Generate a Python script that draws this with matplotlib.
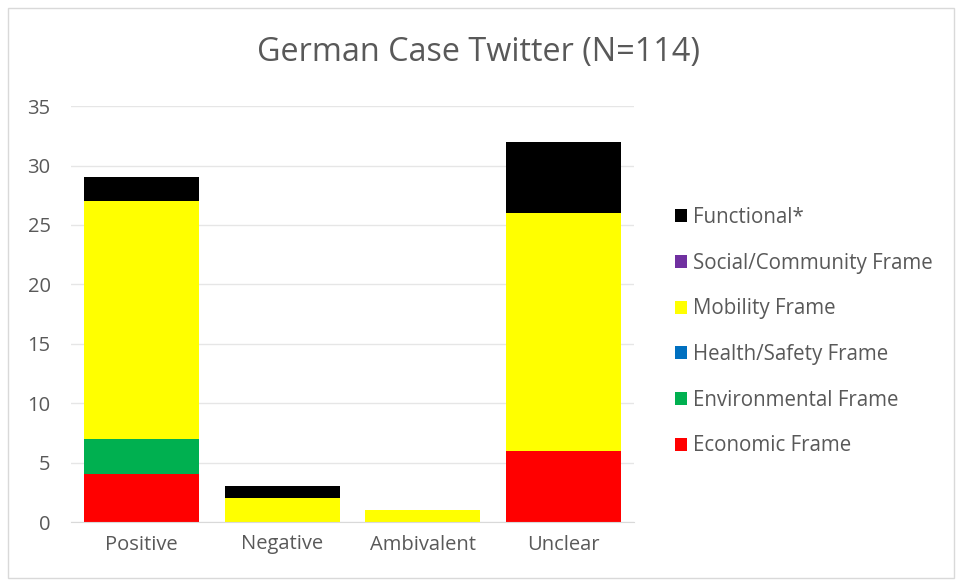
import matplotlib.pyplot as plt
import numpy as np
from matplotlib.patches import Rectangle, Patch

categories = ["Positive", "Negative", "Ambivalent", "Unclear"]
frames = ["Economic Frame", "Environmental Frame", "Health/Safety Frame",
          "Mobility Frame", "Social/Community Frame", "Functional*"]
economic = [4, 0, 0, 6]
environmental = [3, 0, 0, 0]
health = [0, 0, 0, 0]
mobility = [20, 2, 1, 20]
social = [0, 0, 0, 0]
functional = [2, 1, 0, 6]
colors = ["#ff0000", "#00b050", "#0070c0", "#ffff00", "#7030a0", "#000000"]

series = [economic, environmental, health, mobility, social, functional]

plt.rcParams['font.family'] = ['Open Sans', 'DejaVu Sans']
text_col = "#595959"

fig = plt.figure(figsize=(9.57, 5.8), dpi=100)
ax = fig.add_axes([0.0747, 0.1, 0.5873, 0.717])

x = np.arange(len(categories))
bottom = np.zeros(len(categories))
for vals, col, name in zip(series, colors, frames):
    ax.bar(x, vals, bottom=bottom, width=0.82, color=col, label=name, zorder=2)
    bottom += np.array(vals)

ax.set_xlim(-0.5, len(categories) - 0.5)
ax.set_ylim(0, 35)
ax.set_yticks(range(0, 36, 5))
ax.set_xticks(x)
ax.set_xticklabels(categories)
ax.grid(axis="y", color="#e6e6e6", linewidth=1, zorder=0)
for s in ["top", "right", "left"]:
    ax.spines[s].set_visible(False)
ax.spines["bottom"].set_color("#d9d9d9")
ax.tick_params(axis="both", length=0, colors=text_col, labelsize=14.5)
ax.tick_params(axis="y", pad=15)
ax.tick_params(axis="x", pad=9)

fig.text(0.5, 0.909, "German Case Twitter (N=114)", ha="center", va="center",
         fontsize=23.3, color=text_col)

handles = [Patch(facecolor=c, label=n) for c, n in zip(colors, frames)][::-1]
leg = fig.legend(handles=handles, loc="center left", bbox_to_anchor=(0.705, 0.428),
                 frameon=False, fontsize=14.8, handlelength=0.6, handleheight=0.6,
                 handletextpad=0.3, labelspacing=1.2, borderaxespad=0, borderpad=0)
for t in leg.get_texts():
    t.set_color(text_col)

fig.patches.append(Rectangle((8 / 957, 2 / 580), 946 / 957, 570 / 580,
                             transform=fig.transFigure, fill=False,
                             edgecolor="#d9d9d9", linewidth=1))

fig.savefig("out.png", dpi=100)
